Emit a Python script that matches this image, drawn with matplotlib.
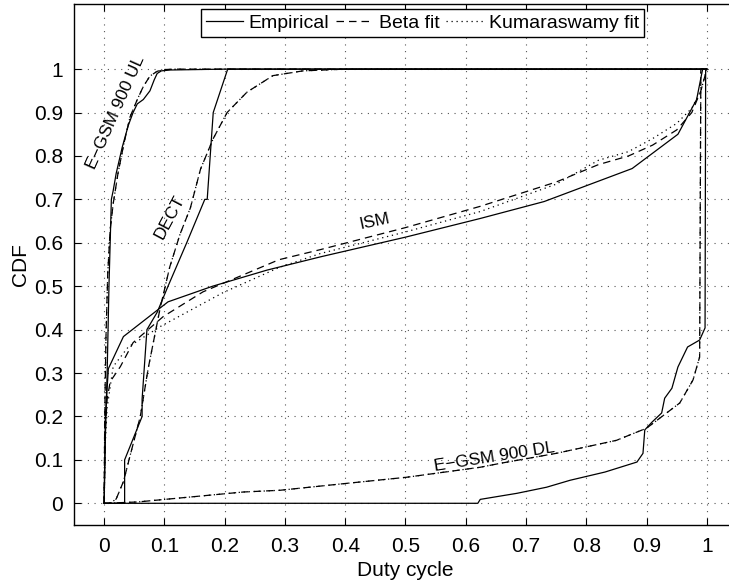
import matplotlib
matplotlib.use("Agg")
import matplotlib.pyplot as plt
from matplotlib.lines import Line2D

plt.rcParams['font.family'] = ['Liberation Sans', 'DejaVu Sans']

# ---- data ----
ul_emp_x = [0, 0.002, 0.005, 0.008, 0.012, 0.015, 0.02, 0.03, 0.04, 0.048, 0.055, 0.065, 0.076, 0.083, 0.088, 0.095, 0.11, 0.2, 1.0]
ul_emp_y = [0, 0.15, 0.3, 0.5, 0.7, 0.72, 0.76, 0.82, 0.87, 0.90, 0.92, 0.93, 0.95, 0.975, 0.99, 0.996, 0.998, 1.0, 1.0]
ul_fit_x = [0, 0.001, 0.003, 0.006, 0.01, 0.015, 0.023, 0.033, 0.043, 0.055, 0.065, 0.076, 0.088, 0.1, 0.12, 0.2, 1.0]
ul_fit_y = [0, 0.2, 0.38, 0.53, 0.63, 0.69, 0.76, 0.83, 0.89, 0.93, 0.96, 0.984, 0.995, 0.999, 1.0, 1.0, 1.0]

dect_emp_x = [0, 0.034, 0.034, 0.063, 0.063, 0.071, 0.088, 0.106, 0.137, 0.167, 0.171, 0.181, 0.205, 1.0]
dect_emp_y = [0, 0, 0.1, 0.2, 0.24, 0.40, 0.44, 0.50, 0.60, 0.70, 0.70, 0.90, 1.0, 1.0]
dect_fit_x = [0, 0.01, 0.02, 0.032, 0.045, 0.06, 0.073, 0.093, 0.109, 0.126, 0.143, 0.16, 0.181, 0.204, 0.237, 0.28, 0.33, 0.4, 0.5, 1.0]
dect_fit_y = [0, 0.0, 0.01, 0.05, 0.12, 0.2, 0.31, 0.45, 0.545, 0.62, 0.68, 0.77, 0.84, 0.90, 0.947, 0.985, 0.996, 1.0, 1.0, 1.0]

ism_emp_x = [0, 0.002, 0.007, 0.032, 0.106, 0.18, 0.27, 0.36, 0.5, 0.624, 0.73, 0.876, 0.952, 0.983, 0.993, 1.0]
ism_emp_y = [0, 0.2, 0.31, 0.384, 0.464, 0.50, 0.537, 0.568, 0.613, 0.656, 0.695, 0.771, 0.85, 0.93, 1.0, 1.0]
ism_beta_x = [0, 0.002, 0.005, 0.01, 0.027, 0.048, 0.063, 0.098, 0.164, 0.29, 0.358, 0.5, 0.624, 0.75, 0.82, 0.87, 0.91, 0.95, 0.975, 0.99, 1.0]
ism_beta_y = [0, 0.17, 0.24, 0.28, 0.315, 0.37, 0.388, 0.43, 0.487, 0.561, 0.584, 0.635, 0.684, 0.74, 0.78, 0.80, 0.825, 0.86, 0.90, 0.95, 1.0]
ism_kum_x = [0, 0.002, 0.005, 0.015, 0.04, 0.093, 0.197, 0.29, 0.358, 0.5, 0.624, 0.75, 0.82, 0.87, 0.91, 0.95, 0.975, 0.99, 1.0]
ism_kum_y = [0, 0.14, 0.22, 0.315, 0.36, 0.407, 0.485, 0.543, 0.575, 0.625, 0.672, 0.735, 0.79, 0.81, 0.84, 0.875, 0.91, 0.95, 1.0]

dl_emp_x = [0, 0.62, 0.624, 0.685, 0.734, 0.773, 0.831, 0.884, 0.894, 0.897, 0.909, 0.925, 0.930, 0.942, 0.952, 0.968, 0.988, 0.997, 0.998, 1.0]
dl_emp_y = [0, 0, 0.009, 0.023, 0.037, 0.053, 0.072, 0.095, 0.115, 0.169, 0.187, 0.208, 0.242, 0.265, 0.314, 0.36, 0.376, 0.404, 1.0, 1.0]
dl_fit_x = [0, 0.055, 0.231, 0.292, 0.396, 0.502, 0.624, 0.657, 0.75, 0.85, 0.9, 0.955, 0.977, 0.988, 0.99, 1.0]
dl_fit_y = [0, 0.003, 0.026, 0.030, 0.045, 0.060, 0.083, 0.092, 0.115, 0.145, 0.173, 0.231, 0.284, 0.337, 1.0, 1.0]

ticks = [0, 0.1, 0.2, 0.3, 0.4, 0.5, 0.6, 0.7, 0.8, 0.9, 1]
tick_labels = ['0', '0.1', '0.2', '0.3', '0.4', '0.5', '0.6', '0.7', '0.8', '0.9', '1']
legend_labels = ['Empirical', 'Beta fit', 'Kumaraswamy fit']

# ---- figure ----
fig = plt.figure(figsize=(7.29, 5.85), dpi=100)
ax = fig.add_axes([74/729, 1-525/585, (737-74)/729, (525-4)/585])

lw = 0.9
k = 'black'
for xs, ys in [(ul_emp_x, ul_emp_y), (dect_emp_x, dect_emp_y), (ism_emp_x, ism_emp_y), (dl_emp_x, dl_emp_y)]:
    ax.plot(xs, ys, color=k, lw=lw, ls='-')
for xs, ys in [(ul_fit_x, ul_fit_y), (dect_fit_x, dect_fit_y), (dl_fit_x, dl_fit_y)]:
    ax.plot(xs, ys, color=k, lw=lw, ls=(0, (6, 4)))
    ax.plot(xs, ys, color=k, lw=lw, ls=(0, (1, 3)))
ax.plot(ism_beta_x, ism_beta_y, color=k, lw=lw, ls=(0, (6, 4)))
ax.plot(ism_kum_x, ism_kum_y, color=k, lw=lw, ls=(0, (1, 3)))

ax.set_xlim(-0.05, 1.05)
ax.set_ylim(-0.05, 1.15)
ax.set_xticks(ticks)
ax.set_xticklabels(tick_labels)
ax.set_yticks(ticks)
ax.set_yticklabels(tick_labels)
ax.tick_params(direction='in', top=True, right=True, labelsize=15, length=5, width=0.8)
ax.tick_params(axis='x', pad=9)
ax.tick_params(axis='y', pad=8)
ax.grid(True, ls=(0, (1, 5)), color='#555555', lw=0.8)
for s in ax.spines.values():
    s.set_linewidth(1.0)
ax.set_xlabel('Duty cycle', fontsize=15, labelpad=3)
ax.set_ylabel('CDF', fontsize=15, labelpad=3)

ax.text(0.02, 0.9, 'E\u2212GSM 900 UL', rotation=66, fontsize=12.5, ha='center', va='center')
ax.text(0.108, 0.66, 'DECT', rotation=62, fontsize=12.5, ha='center', va='center')
ax.text(0.449, 0.649, 'ISM', rotation=12, fontsize=12.5, ha='center', va='center')
ax.text(0.648, 0.106, 'E\u2212GSM 900 DL', rotation=9, fontsize=12.5, ha='center', va='center')

handles = [Line2D([], [], color=k, lw=lw, ls='-'),
           Line2D([], [], color=k, lw=lw, ls=(0, (6, 4))),
           Line2D([], [], color=k, lw=lw, ls=(0, (1, 3)))]
leg = ax.legend(handles, legend_labels, loc='upper center', bbox_to_anchor=(0.526, 0.99), ncol=3,
                fontsize=14, frameon=True, fancybox=False, edgecolor='black', framealpha=1,
                handlelength=1.9, handletextpad=0.3, columnspacing=0.35, borderpad=0.25, borderaxespad=0)
leg.get_frame().set_linewidth(1.0)

fig.savefig('out.png', dpi=100)
